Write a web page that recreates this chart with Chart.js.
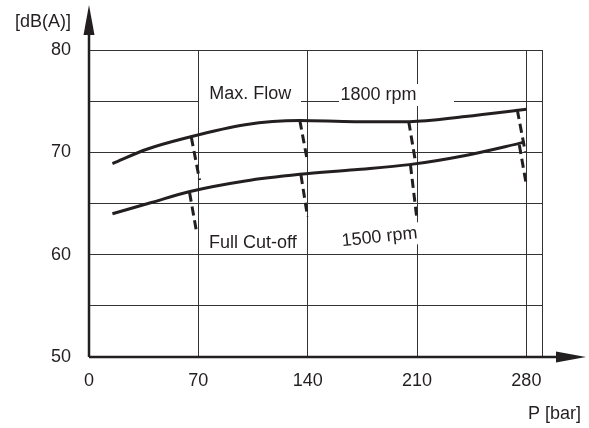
<!DOCTYPE html>
<html><head><meta charset="utf-8">
<script src="https://cdn.jsdelivr.net/npm/chart.js@4"></script>
<style>html,body{margin:0;padding:0;background:#fff}</style>
</head><body>
<canvas id="c" width="589" height="428"></canvas>
<script>
// ---- data ----
const xTicks = [0, 70, 140, 210, 280, 290];
const xTickLabels = ['0', '70', '140', '210', '280', ''];
const yTicks = [50, 55, 60, 65, 70, 75, 80];
const yTickLabels = ['50', '', '60', '', '70', '', '80'];
const xTitle = 'P [bar]';
const yTitle = '[dB(A)]';

const p1800 = [15, 37, 62, 100, 135, 170, 205, 241, 280];
const db1800 = [68.9, 70.3, 71.4, 72.7, 73.1, 73.0, 73.0, 73.5, 74.2];
const p1500 = [15, 40, 64, 100, 135, 170, 205, 241, 279];
const db1500 = [64.0, 65.1, 66.15, 67.2, 67.85, 68.3, 68.8, 69.7, 71.0];

// full cut-off dashed segments: start/end pressure and level
const cutP  = [[65.5, 70.8], [64.4, 69.1], [135.0, 139.9], [135.7, 139.9], [204.7, 209.0], [205.8, 210.0], [274.2, 279.3], [275.5, 280.0]];
const cutDb = [[71.47, 67.29], [66.05, 62.01], [73.09, 69.08], [67.78, 63.70], [72.99, 69.08], [68.76, 63.38], [74.13, 70.03], [70.71, 66.80]];

const labelTexts = ['Max. Flow', '1800 rpm', 'Full Cut-off', '1500 rpm'];
const labelP = [103.3, 185.3, 104.9, 186.0];
const labelDb = [75.65, 75.6, 61.16, 61.7];
const labelRot = [0, 0, 0, -6];

// ---- build ----
const pts = (xs, ys) => xs.map((x, i) => ({x, y: ys[i]}));
const FONT = '"Liberation Sans", Arial, sans-serif';
const INK = '#231f20';
const datasets = [
  {data: pts(p1800, db1800), borderColor: INK, borderWidth: 3, tension: 0.4, cubicInterpolationMode: 'monotone', pointRadius: 0},
  {data: pts(p1500, db1500), borderColor: INK, borderWidth: 3, tension: 0.4, cubicInterpolationMode: 'monotone', pointRadius: 0}
];
cutP.forEach((xs, i) => datasets.push({data: pts(xs, cutDb[i]), borderColor: INK, borderWidth: 3, borderDash: [9, 5], pointRadius: 0, tension: 0}));

// white masks behind labels (pixel boxes, styling only)
const masks = [[199, 84, 102, 22], [339, 84, 115, 22]];

const deco = {
  id: 'deco',
  beforeDatasetsDraw(chart) {
    const ctx = chart.ctx, xs = chart.scales.x, ys = chart.scales.y;
    ctx.save();
    ctx.fillStyle = '#fff';
    masks.forEach(m => ctx.fillRect(m[0], m[1], m[2], m[3]));
    ctx.font = '18px ' + FONT;
    ctx.textBaseline = 'middle';
    labelTexts.forEach((t, i) => {
      const px = xs.getPixelForValue(labelP[i]), py = ys.getPixelForValue(labelDb[i]);
      ctx.save();
      ctx.translate(px, py);
      if (labelRot[i]) {
        ctx.rotate(labelRot[i] * Math.PI / 180);
        const w = ctx.measureText(t).width;
        ctx.fillStyle = '#fff';
        ctx.fillRect(-w / 2 - 2, -11, w + 4, 22);
      }
      ctx.fillStyle = INK;
      ctx.textAlign = 'center';
      ctx.fillText(t, 0, 0);
      ctx.restore();
    });
    ctx.restore();
  },
  afterDraw(chart) {
    const ctx = chart.ctx, a = chart.chartArea;
    const x0 = a.left, y0 = a.bottom;
    ctx.save();
    ctx.fillStyle = INK; ctx.strokeStyle = INK;
    ctx.lineWidth = 2.5;
    ctx.beginPath();
    ctx.moveTo(x0, y0); ctx.lineTo(x0, 30);
    ctx.moveTo(x0, y0); ctx.lineTo(560, y0);
    ctx.stroke();
    ctx.beginPath();
    ctx.moveTo(x0, 5); ctx.lineTo(x0 + 5.5, 35); ctx.lineTo(x0 - 5.5, 35); ctx.closePath();
    ctx.fill();
    ctx.beginPath();
    ctx.moveTo(586, y0); ctx.lineTo(556, y0 - 5.5); ctx.lineTo(556, y0 + 5.5); ctx.closePath();
    ctx.fill();
    ctx.font = '18px ' + FONT;
    ctx.textBaseline = 'middle';
    ctx.textAlign = 'right';
    ctx.fillText(yTitle, 71, 22);
    ctx.fillText(xTitle, 581, 414);
    ctx.restore();
  }
};

new Chart(document.getElementById('c'), {
  type: 'line',
  data: {datasets},
  options: {
    responsive: false, animation: false, devicePixelRatio: 1,
    layout: {padding: {top: 50, right: 47, left: 0, bottom: 0}},
    plugins: {legend: {display: false}, tooltip: {enabled: false}},
    scales: {
      x: {
        type: 'linear', min: 0, max: 290,
        afterBuildTicks: s => { s.ticks = xTicks.map(v => ({value: v})); },
        afterFit: s => { s.height = 71; },
        grid: {color: '#333', lineWidth: 1, drawTicks: false},
        border: {display: false},
        ticks: {padding: 13, color: INK, font: {family: FONT, size: 18}, maxRotation: 0,
          callback: (v) => { const i = xTicks.indexOf(v); return i >= 0 ? xTickLabels[i] : ''; }}
      },
      y: {
        type: 'linear', min: 50, max: 80,
        afterBuildTicks: s => { s.ticks = yTicks.map(v => ({value: v})); },
        afterFit: s => { s.width = 89; },
        grid: {color: '#333', lineWidth: 1, drawTicks: false},
        border: {display: false},
        ticks: {padding: 18, color: INK, font: {family: FONT, size: 18},
          callback: (v) => { const i = yTicks.indexOf(v); return i >= 0 ? yTickLabels[i] : ''; }}
      }
    }
  },
  plugins: [deco]
});
</script>
</body></html>
